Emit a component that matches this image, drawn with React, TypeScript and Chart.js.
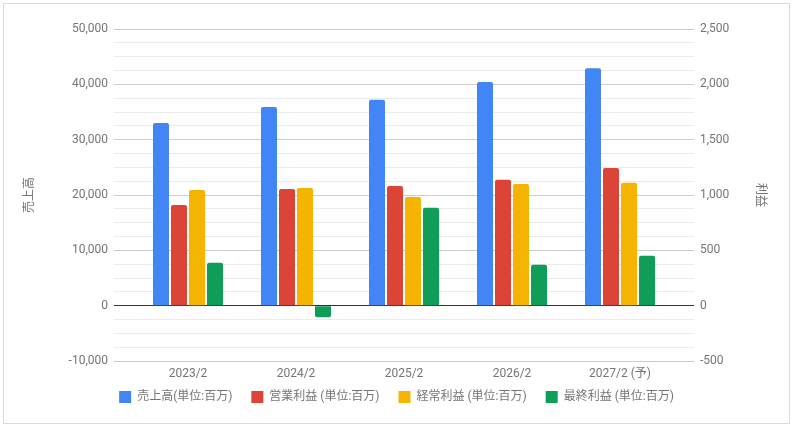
import { useEffect, useRef } from "react"
import { Chart, registerables } from "chart.js"

Chart.register(...registerables)

// 決算期
const categories = ["2023/2", "2024/2", "2025/2", "2026/2", "2027/2 (予)"]
// 売上高 (左軸)
const sales = [33000, 35900, 37200, 40400, 42900]
// 利益 (右軸)
const operatingProfit = [910, 1055, 1082, 1137, 1245]
const ordinaryProfit = [1046, 1064, 983, 1100, 1110]
const netProfit = [388, -105, 884, 370, 451]

const seriesNames = [
  "売上高(単位:百万)",
  "営業利益 (単位:百万)",
  "経常利益 (単位:百万)",
  "最終利益 (単位:百万)",
]
const colors = ["#4285f4", "#db4437", "#f4b400", "#0f9d58"]

const FONT = "Roboto, 'Noto Sans CJK JP', sans-serif"
const TEXT = "#757575"

// 0 は濃い線、主目盛りは灰色、補助目盛りは薄い灰色
const gridColor = (major: number) => (ctx: any) => {
  const v = ctx.tick ? ctx.tick.value : 1
  if (Math.abs(v) < 1e-9) return "#333333"
  return Math.abs(v % major) < 1e-9 ? "#cccccc" : "#ebebeb"
}

const fmt = (v: number) => v.toLocaleString("en-US")

export default function App() {
  const canvasRef = useRef<HTMLCanvasElement>(null)

  useEffect(() => {
    document.body.style.margin = "0"
    if (!canvasRef.current) return
    const ctx = canvasRef.current.getContext("2d")
    if (!ctx) return

    Chart.defaults.font.family = FONT
    Chart.defaults.font.size = 12
    Chart.defaults.color = TEXT

    const values = [sales, operatingProfit, ordinaryProfit, netProfit]

    const chart = new Chart(ctx, {
      type: "bar",
      data: {
        labels: categories,
        datasets: values.map((data, i) => ({
          label: seriesNames[i],
          data,
          backgroundColor: colors[i],
          borderWidth: 0,
          borderRadius: 2,
          yAxisID: i === 0 ? "y" : "y1",
          categoryPercentage: 0.667,
          barPercentage: 0.889,
        })),
      },
      options: {
        animation: false,
        responsive: true,
        maintainAspectRatio: false,
        layout: { padding: { top: 29, bottom: 15, left: 0, right: 0 } },
        plugins: {
          legend: {
            position: "bottom",
            align: "center",
            labels: {
              boxWidth: 12,
              boxHeight: 12,
              padding: 19,
              color: TEXT,
              font: { size: 12 },
            },
          },
        },
        scales: {
          x: {
            grid: { display: false, drawTicks: false },
            border: { display: false },
            ticks: { padding: 6, color: TEXT },
            afterFit: (scale: any) => {
              scale.height = 11
              // ラベルを軸の高さで切らない
              scale._computeLabelArea = () => undefined
            },
          },
          y: {
            position: "left",
            min: -10000,
            max: 50000,
            ticks: {
              stepSize: 2500,
              autoSkip: false,
              padding: 6,
              color: TEXT,
              callback: (v: any) => (v % 10000 === 0 ? fmt(v) : ""),
            },
            grid: {
              color: gridColor(10000),
              tickColor: gridColor(10000),
              tickLength: 20,
              lineWidth: 1,
            },
            border: { display: false },
            title: {
              display: true,
              text: "売上高",
              color: TEXT,
              font: { size: 12 },
              padding: { top: 23, bottom: 0 },
            },
            afterFit: (scale: any) => {
              scale.width = 134
            },
          },
          y1: {
            position: "right",
            min: -500,
            max: 2500,
            ticks: {
              stepSize: 125,
              autoSkip: false,
              padding: 6,
              color: TEXT,
              callback: (v: any) => (v % 500 === 0 ? fmt(v) : ""),
            },
            grid: {
              drawOnChartArea: false,
              color: gridColor(500),
              tickColor: gridColor(500),
              tickLength: 20,
              lineWidth: 1,
            },
            border: { display: false },
            title: {
              display: true,
              text: "利益",
              color: TEXT,
              font: { size: 12 },
              padding: { top: 26, bottom: 0 },
            },
            afterFit: (scale: any) => {
              scale.width = 119
            },
          },
        },
      },
    })

    return () => {
      chart.destroy()
    }
  }, [])

  return (
    <div style={{ position: "relative", width: 793, height: 428, background: "#fff" }}>
      <canvas ref={canvasRef} />
      <div
        style={{
          position: "absolute",
          left: 3,
          top: 3,
          width: 787,
          height: 421,
          boxSizing: "border-box",
          border: "1px solid #dadada",
          pointerEvents: "none",
        }}
      />
    </div>
  )
}
